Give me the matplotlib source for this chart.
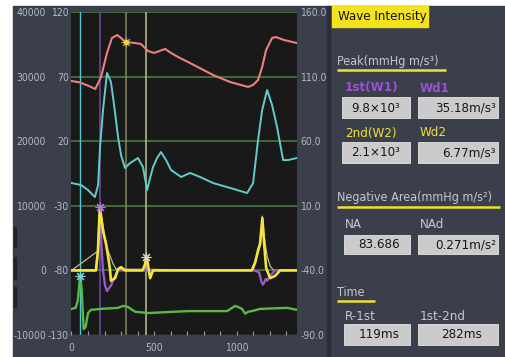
import matplotlib
matplotlib.use('Agg')
from matplotlib import pyplot as plt
from matplotlib import font_manager
from matplotlib.ticker import FormatStrFormatter, MultipleLocator
from matplotlib.patches import Rectangle

# pick a narrow face if one is installed, the device screen uses a condensed font
narrow = None
for f in font_manager.fontManager.ttflist:
    fn = f.fname.lower()
    if ('condensed' in fn or 'narrow' in fn) and 'bold' not in fn and 'italic' not in fn \
            and 'light' not in fn and 'semi' not in fn and 'extra' not in fn and 'black' not in fn \
            and 'thin' not in fn and 'medium' not in fn and 'oblique' not in fn:
        narrow = f
        break
if narrow is not None:
    plt.rcParams['font.family'] = [narrow.name, 'DejaVu Sans']
    plt.rcParams['font.stretch'] = narrow.stretch
else:
    plt.rcParams['font.family'] = ['Liberation Sans', 'DejaVu Sans']
plt.rcParams['axes.unicode_minus'] = False

# ---- data (time in ms) ----
# ECG, drawn on the wave intensity scale
ecg_t = [0, 25, 38, 46, 52, 57, 62, 68, 74, 86, 100, 118, 179, 282, 312, 342, 367, 385, 464, 706,
         942, 973, 991, 1009, 1033, 1052, 1070, 1094, 1142, 1306, 1365]
ecg_v = [-5960, -5800, -4700, -2500, -850, -1600, -3200, -6300, -9100, -8700, -6600, -6100, -5960,
         -5800, -5500, -5650, -6100, -6400, -6600, -6300, -6300, -5800, -5500, -5650, -5960, -6700,
         -6400, -6300, -5960, -5800, -6100]

# wave intensity (mmHg m/s^3)
wi_t = [0, 148, 160, 172, 191, 209, 221, 233, 239, 264, 282, 300, 324, 430, 445, 454, 462, 476, 494,
        1092, 1112, 1132, 1142, 1156, 1167, 1179, 1203, 1233, 1264, 1365]
wi_v = [0, 0, 3000, 9800, 6100, 4100, 2300, 200, -1600, -1200, 200, 500, 0, 0, 900, 2100, 1100,
        -1200, 0, 0, 1200, 3300, 4100, 8100, 4100, 400, -1200, -850, 0, 0]

# second intensity trace (purple)
pu_t = [0, 148, 160, 172, 181, 191, 203, 215, 240, 262, 282, 1106, 1136, 1152, 1161, 1177, 1185,
        1203, 1221, 1233, 1365]
pu_v = [0, 0, 3000, 9800, 4000, 0, -2300, -3200, -2300, -1000, 0, 0, -300, -1900, -2200, -1300,
        -1600, -850, -300, 0, 0]

# thin khaki trace
kh_t = [0, 160, 172, 191, 203, 221, 239, 252, 270, 1100, 1145, 1156, 1167, 1185, 1203, 1225, 1365]
kh_v = [0, 3000, 9800, 6900, 5000, 3000, 1900, 1000, 200, 0, 4000, 8400, 5300, 2200, 700, 0, 0]

# velocity (cyan, inner left scale)
vel_t = [0, 58, 100, 142, 161, 173, 191, 215, 239, 258, 282, 300, 324, 355, 403, 433, 458, 476, 494,
         518, 542, 573, 603, 664, 718, 779, 858, 961, 1064, 1100, 1130, 1155, 1185, 1215, 1245,
         1282, 1312, 1365]
vel_v = [-12.4, -13.9, -17.8, -23.2, -13.9, 15.5, 44.1, 72.8, 65.8, 48.0, 23.3, 9.3, -0.7, 3.1,
         7.0, 0.0, -17.8, -8.5, 0.0, 7.0, 11.6, 5.4, -2.3, -7.7, -4.6, -7.7, -12.4, -16.2, -20.1,
         -12.4, 20.9, 44.1, 59.6, 48.0, 31.0, 5.4, 5.4, 7.0]

# pressure (red, right scale, mmHg)
pr_t = [0, 50, 100, 144, 179, 215, 245, 276, 300, 324, 385, 421, 464, 500, 567, 603, 645, 706, 858,
        961, 1070, 1100, 1130, 1155, 1179, 1215, 1239, 1288, 1365]
pr_v = [106.6, 105.5, 103.0, 100.4, 109.7, 128.3, 139.9, 142.2, 139.9, 136.8, 136.0, 135.2, 129.8,
        128.3, 131.4, 128.3, 125.2, 121.3, 111.2, 105.8, 102.0, 103.5, 107.4, 117.4, 130.6, 139.9,
        140.6, 138.3, 136.0]

# event markers
t_r, t_w1, t_pmax, t_w2 = 52, 172, 328, 454
ecg_r, w1_peak, p_max, w2_peak = -850, 9800, 136.8, 2100

wi_ticks = [-10000, 0, 10000, 20000, 30000, 40000]
vel_ticks = [-130, -80, -30, 20, 70, 120]
pr_ticks = [-90, -40, 10, 60, 110, 160]
x_ticks = [0, 500, 1000]

# ---- styles ----
panel = '#3b3f4c'
label_c = '#b4b8c4'
W, H = 506, 357
fs_tick = 7.5
fs_txt = 9

fig = plt.figure(figsize=(W / 100, H / 100), dpi=100)
fig.patch.set_facecolor('white')

# background / side panel drawn in pixel coordinates
bg = fig.add_axes([0, 0, 1, 1])
bg.set_xlim(0, W)
bg.set_ylim(H, 0)
bg.axis('off')
bg.add_patch(Rectangle((13, 6), W - 13, H - 6, color=panel))
bg.add_patch(Rectangle((327, 6), 3, H - 6, color='#2b2e39'))
for y0, y1 in [(227, 247), (257, 279), (287, 307)]:
    bg.add_patch(Rectangle((14, y0), 2.5, y1 - y0, color='#22242c'))

# ---- plot area ----
L, R, T, B = 71.5, 297, 12, 335
ax = fig.add_axes([L / W, 1 - B / H, (R - L) / W, (B - T) / H])
ax.set_facecolor('#191919')
ax.set_xlim(0, 1366)
ax.set_ylim(-10000, 40000)
for s in ax.spines.values():
    s.set_visible(False)
ax.set_yticks(wi_ticks)
ax.set_yticklabels([str(v) for v in wi_ticks])
ax.tick_params(axis='y', length=0, pad=18.5, labelcolor=label_c, labelsize=fs_tick)
ax.set_xticks(x_ticks)
ax.xaxis.set_minor_locator(MultipleLocator(100))
ax.tick_params(axis='x', which='both', direction='in', length=3, width=0.8, color='#9a9ea8',
               labelcolor=label_c, labelsize=fs_tick, pad=6)
for v in wi_ticks[1:]:
    ax.axhline(v, color='#4b7645', lw=1.2, zorder=0.5)
ax.axhline(wi_ticks[0], color='#6a6e78', lw=1.0, zorder=0.5)

ax.axvline(t_r, color='#4fc6d6', lw=1.0, zorder=0.6)
ax.axvline(t_w1, color='#6a4690', lw=1.2, zorder=0.6)
ax.axvline(t_pmax, color='#7f7f58', lw=1.2, zorder=0.6)
ax.axvline(t_w2, color='#b5b38c', lw=1.2, zorder=0.6)

ax.plot(ecg_t, ecg_v, color='#5cb845', lw=1.7)
ax.plot(kh_t, kh_v, color='#b7c383', lw=0.9)
ax.plot(pu_t, pu_v, color='#9a5ccb', lw=1.6)
ax.plot(wi_t, wi_v, color='#f3e53a', lw=1.9)

ast = (8, 2, 0)
ax.plot([t_r], [ecg_r], marker=ast, ms=7, mew=0.8, color='#6fd6e0')
ax.plot([t_w1], [w1_peak], marker=ast, ms=7, mew=0.8, color='#b07ad8')
ax.plot([t_w2], [w2_peak], marker=ast, ms=7, mew=0.8, color='#d8d6b8')

# inner left scale (velocity)
axv = ax.twinx()
axv.set_ylim(-130, 120)
axv.yaxis.tick_left()
axv.set_yticks(vel_ticks)
axv.tick_params(axis='y', length=0, pad=1.8, labelcolor=label_c, labelsize=fs_tick)
for s in axv.spines.values():
    s.set_visible(False)
axv.plot(vel_t, vel_v, color='#62cccc', lw=1.4)

# right scale (pressure)
axp = ax.twinx()
axp.set_ylim(-90, 160)
axp.set_yticks(pr_ticks)
axp.yaxis.set_major_formatter(FormatStrFormatter('%1.1f'))
axp.tick_params(axis='y', length=0, pad=2.5, labelcolor=label_c, labelsize=fs_tick)
for s in axp.spines.values():
    s.set_visible(False)
axp.plot(pr_t, pr_v, color='#ec7f80', lw=1.5)
axp.plot([t_pmax], [p_max], marker=ast, ms=7, mew=0.8, color='#9a9a80')
axp.plot([t_pmax], [p_max], marker='o', ms=3, color='#ffd21e')

# ---- side panel ----
purple, yellow = '#9a52d4', '#f2e03a'
bg.add_patch(Rectangle((332, 6), 96, 21, color='#f4e21c'))
bg.text(338, 16.5, 'Wave Intensity', color='#111111', fontsize=fs_txt + 0.5, va='center', ha='left')


def heading(y, s, x_end):
    bg.text(337, y, s, color='#c4c8d2', fontsize=fs_txt, va='center', ha='left')
    bg.plot([337, x_end], [y + 8.5, y + 8.5], color='#f0e030', lw=1.8, solid_capstyle='butt')


def label(x, y, s, c, bold=False):
    bg.text(x, y, s, color=c, fontsize=fs_txt + 0.5, va='center', ha='left',
            fontweight='bold' if bold else 'normal')


def box(x0, x1, y0, y1, s, ha, tx):
    bg.add_patch(Rectangle((x0, y0), x1 - x0, y1 - y0, facecolor='#cbcbcb', edgecolor='#e4e4e4', lw=0.6))
    bg.text(tx, (y0 + y1) / 2 + 0.5, s, color='#161616', fontsize=fs_txt + 0.5, va='center', ha=ha)


heading(61, 'Peak(mmHg m/s³)', 446)
label(345, 88, '1st(W1)', purple, True)
label(420, 88, 'Wd1', purple, True)
box(342, 410, 97, 118, '9.8×10³', 'center', 376)
box(418, 498, 97, 118, '35.18m/s³', 'right', 496)
label(345, 133, '2nd(W2)', yellow)
label(420, 133, 'Wd2', yellow)
box(342, 410, 142, 163, '2.1×10³', 'center', 376)
box(418, 498, 142, 163, '6.77m/s³', 'right', 496)

heading(198, 'Negative Area(mmHg m/s²)', 500)
label(345, 225, 'NA', '#c4c8d2')
label(420, 225, 'NAd', '#c4c8d2')
box(344, 410, 235, 254, '83.686', 'center', 379)
box(418, 498, 235, 254, '0.271m/s²', 'right', 496)

heading(292, 'Time', 375)
label(345, 317, 'R-1st', '#c4c8d2')
label(420, 317, '1st-2nd', '#c4c8d2')
box(344, 410, 324, 345, '119ms', 'center', 379)
box(418, 498, 324, 345, '282ms', 'center', 462)

fig.savefig('out.png', dpi=100, facecolor=fig.get_facecolor())
